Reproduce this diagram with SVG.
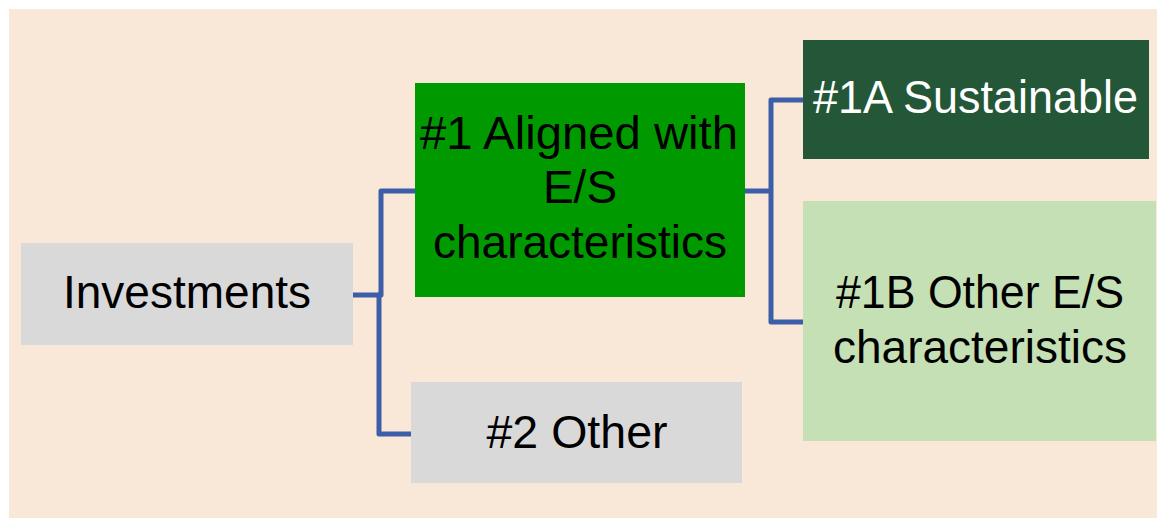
<svg xmlns="http://www.w3.org/2000/svg" width="1161" height="518" viewBox="0 0 1161 518">
<style>
text{font-family:"Liberation Sans",Arial,sans-serif;font-size:46px;text-anchor:middle;fill:#000}
.w{fill:#fff}
.c{fill:none;stroke:#3C5EA8;stroke-width:5;stroke-linejoin:round}
</style>
<rect x="0" y="0" width="1161" height="518" fill="#fff"/>
<rect x="9" y="9" width="1148" height="509" fill="#F9E7D7"/>
<g id="connectors">
<polyline class="c" points="353,295 381,295 381,191 415,191"/>
<polyline class="c" points="381,295 379,295 379,434 411,434"/>
<polyline class="c" points="745,191 771,191"/>
<polyline class="c" points="803,100 771,100 771,322 803,322"/>
</g>
<g id="investments">
<rect x="21" y="243" width="332" height="102" fill="#D9D9D9"/>
<text x="187" y="308">Investments</text>
</g>
<g id="aligned">
<rect x="415" y="83" width="330" height="214" fill="#009900"/>
<text x="579" y="149" textLength="318" lengthAdjust="spacingAndGlyphs">#1 Aligned with</text>
<text x="580" y="203">E/S</text>
<text x="580" y="258">characteristics</text>
</g>
<g id="other2">
<rect x="411" y="382" width="331" height="101" fill="#D9D9D9"/>
<text x="577" y="448" textLength="181" lengthAdjust="spacingAndGlyphs">#2 Other</text>
</g>
<g id="sustainable">
<rect x="803" y="40" width="346" height="119" fill="#245638"/>
<text class="w" x="975.5" y="113" textLength="325" lengthAdjust="spacingAndGlyphs">#1A Sustainable</text>
</g>
<g id="other1b">
<rect x="803" y="201" width="353" height="240" fill="#C5E0B4"/>
<text x="980" y="308" textLength="288" lengthAdjust="spacingAndGlyphs">#1B Other E/S</text>
<text x="980" y="363">characteristics</text>
</g>
</svg>
